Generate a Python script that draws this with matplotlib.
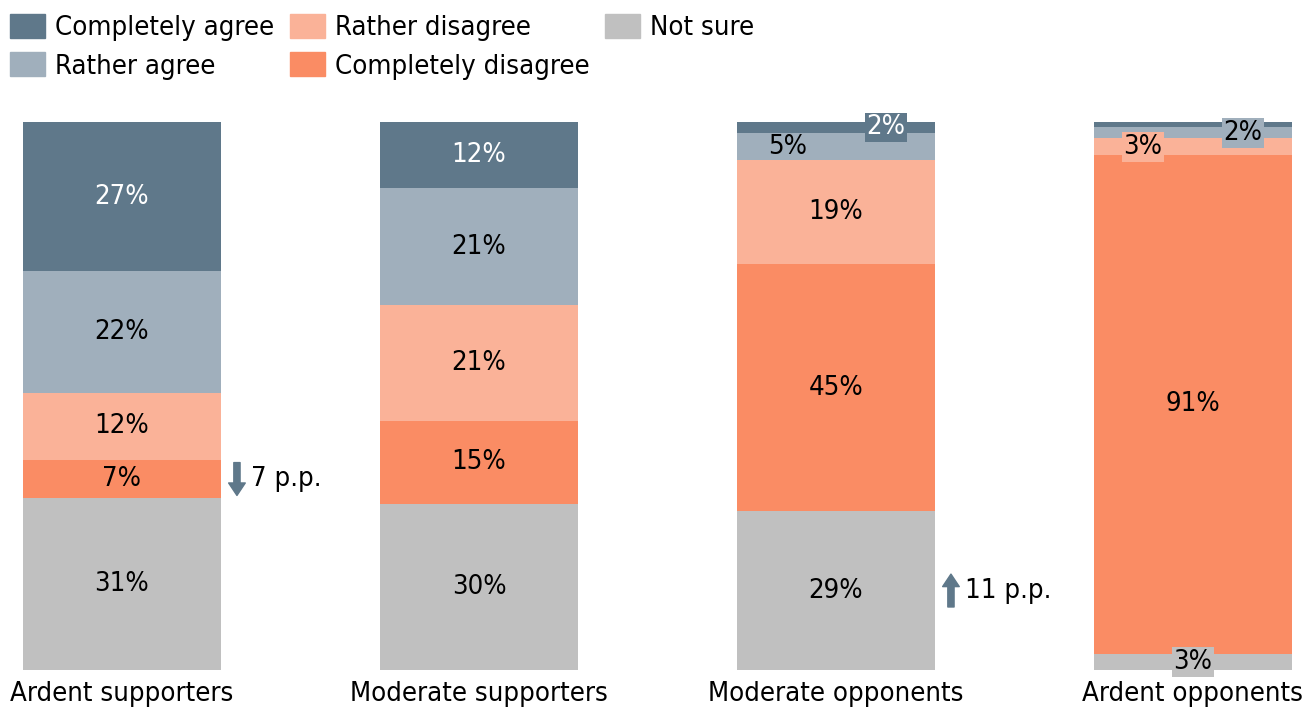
import matplotlib.pyplot as plt
from matplotlib.patches import Patch

# Data kelompok dan jawaban
groups = ['Ardent supporters', 'Moderate supporters', 'Moderate opponents', 'Ardent opponents']
answers = ['Completely agree', 'Rather agree', 'Rather disagree', 'Completely disagree', 'Not sure']
completely_agree = [27, 12, 2, 1]
rather_agree = [22, 21, 5, 2]
rather_disagree = [12, 21, 19, 3]
completely_disagree = [7, 15, 45, 91]
not_sure = [31, 30, 29, 3]
# change since previous wave: (group, answer, p.p.)
changes = [(0, 3, -7), (2, 4, 11)]

colors = ['#5f788a', '#a0afbc', '#fab298', '#fa8c64', '#c0c0c0']
text_colors = ['white', 'black', 'black', 'black', 'black']

# small segments: label shifted sideways, some with a box, some not shown
label_shift = {(2, 0): 0.14, (2, 1): -0.135, (3, 1): 0.14, (3, 2): -0.14}
boxed = {(2, 0), (3, 1), (3, 2), (3, 4)}
hidden = {(3, 0)}

plt.rcParams['font.family'] = 'DejaVu Sans'
plt.rcParams['font.stretch'] = 'condensed'
FS = 19.7
BAR_W = 0.555


def gambar(ax):
    series = [completely_agree, rather_agree, rather_disagree, completely_disagree, not_sure]
    centers = {}
    for g in range(len(groups)):
        total = sum(s[g] for s in series)
        bottom = 0
        # stack from bottom: Not sure first, Completely agree on top
        for a in reversed(range(len(answers))):
            v = series[a][g]
            h = v / total * 100
            ax.bar(g, h, bottom=bottom, width=BAR_W, color=colors[a], linewidth=0)
            yc = bottom + h / 2
            centers[(g, a)] = yc
            if (g, a) not in hidden:
                bbox = None
                if (g, a) in boxed:
                    bbox = dict(boxstyle='square,pad=0.07', fc=colors[a], ec='none')
                ax.text(g + label_shift.get((g, a), 0), yc, f'{v}%', ha='center', va='center',
                        fontsize=FS, color=text_colors[a], bbox=bbox)
            bottom += h
        ax.text(g, -2.0, groups[g], ha='center', va='top', fontsize=FS)

    # panah perubahan
    for g, a, d in changes:
        yc = centers[(g, a)]
        y0, y1 = (yc + 3.0, yc - 3.0) if d < 0 else (yc - 3.0, yc + 3.0)
        ax.annotate('', xy=(g + 0.322, y1), xytext=(g + 0.322, y0),
                    arrowprops=dict(arrowstyle='simple,head_length=0.6,head_width=0.8,tail_width=0.3',
                                    color=colors[0], shrinkA=0, shrinkB=0, mutation_scale=15))
        ax.text(g + 0.362, yc, f'{abs(d)} p.p.', ha='left', va='center', fontsize=FS)


fig = plt.figure(figsize=(13.06, 7.08), dpi=100)
ax = fig.add_axes([0, 38 / 708, 1, 548 / 708])
ax.set_xlim(-122 / 357, (1306 - 122) / 357)
ax.set_ylim(0, 100)
ax.axis('off')

gambar(ax)

handles = [Patch(color=c, label=l) for c, l in zip(colors, answers)]
fig.legend(handles=handles, loc='upper left', bbox_to_anchor=(0.0077, 0.98), ncol=3,
           frameon=False, fontsize=FS, handlelength=1.28, handleheight=0.95,
           handletextpad=0.37, columnspacing=0.56, labelspacing=0.4, borderpad=0,
           borderaxespad=0)

fig.savefig('out.png', dpi=100)
